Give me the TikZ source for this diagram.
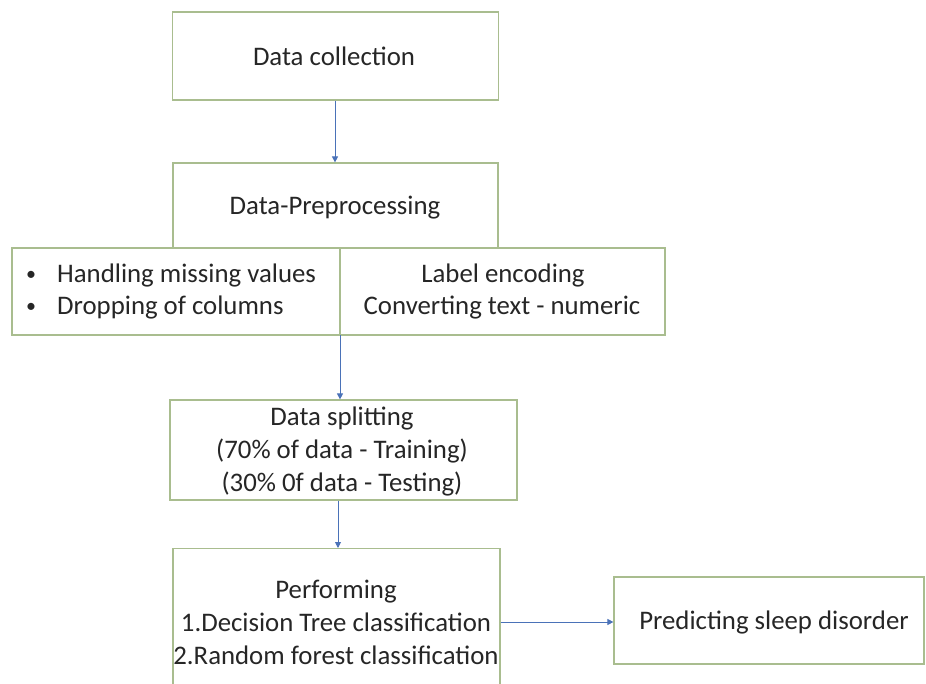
\documentclass[tikz,border=0pt]{standalone}
\usepackage{fontspec}
\setmainfont{Carlito}
\usetikzlibrary{arrows.meta}
\definecolor{boxgreen}{HTML}{A9BD8F}
\definecolor{arrowblue}{HTML}{4A72B8}
\begin{document}
\begin{tikzpicture}[x=1pt,y=-1pt,
  box/.style={draw=boxgreen, line width=1.2pt, fill=white, inner sep=0pt},
  txt/.style={font=\fontsize{26.8}{33}\selectfont, text=black!85, inner sep=0pt, align=center},
  conn/.style={draw=arrowblue, line width=0.9pt, -{Triangle[length=6pt,width=6pt]}}]
\useasboundingbox (0,0) rectangle (926,684);
\clip (0,0) rectangle (926,684);
\fill[white] (0,0) rectangle (926,684);
% boxes
\node[box, minimum width=326pt, minimum height=88pt] (dc) at (335.5,56) {};
\node[txt] (dctext) at (334,56) {Data collection};
\node[box, minimum width=325pt, minimum height=85pt] (pp) at (335.5,205.5) {};
\node[txt] (pptext) at (335,208) {Data-Preprocessing};
\node[box, minimum width=653pt, minimum height=87pt] (lb) at (338.5,291.5) {};
\coordinate (divtop) at (340,248);
\coordinate (divbot) at (340,335);
\draw[boxgreen, line width=1.2pt] (divtop) -- (divbot);
\node[txt, font=\fontsize{20}{24}\selectfont] (b1) at (31,276) {•};
\node[txt, font=\fontsize{20}{24}\selectfont] (b2) at (31,308) {•};
\node[txt, anchor=west] (h1) at (57,276) {Handling missing values};
\node[txt, anchor=west] (h2) at (57,308) {Dropping of columns};
\node[txt] (l1) at (503,276) {Label encoding};
\node[txt] (l2) at (502,308) {Converting text - numeric};
\node[box, minimum width=347pt, minimum height=100pt] (ds) at (343.5,450) {};
\node[txt] (dstext) at (342,451) {Data splitting\\(70\% of data - Training)\\(30\% 0f data - Testing)};
\node[box, minimum width=327pt, minimum height=160pt, anchor=north] (pf) at (336.5,548) {};
\node[txt] (pftext) at (336,622) {Performing\\1.Decision Tree classification\\2.Random forest classification};
\node[box, minimum width=310pt, minimum height=87pt] (pr) at (769,620.5) {};
\node[txt] (prtext) at (774,622) {Predicting sleep disorder};
% connectors
\draw[conn] (dc.south -| 335,0) -- (pp.north -| 335,0);
\draw[conn] (divbot) -- (ds.north -| divbot);
\draw[conn] (ds.south -| 338,0) -- (pf.north -| 338,0);
\draw[conn] (pf.east |- 0,622) -- (pr.west |- 0,622);
\end{tikzpicture}
\end{document}
